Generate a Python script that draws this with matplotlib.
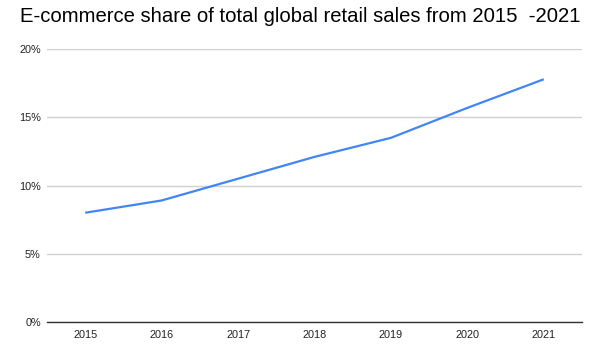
import matplotlib
matplotlib.use("Agg")
import matplotlib.pyplot as plt
from matplotlib.ticker import FuncFormatter

# E-commerce share of total retail sales (%)
years = ["2015", "2016", "2017", "2018", "2019", "2020", "2021"]
share = [8.0, 8.9, 10.5, 12.1, 13.5, 15.7, 17.8]
y_ticks = [0, 5, 10, 15, 20]

plt.rcParams["font.family"] = ["Liberation Sans", "DejaVu Sans"]

fig = plt.figure(figsize=(6.0, 3.49), dpi=100)
ax = fig.add_axes([47 / 600, 27.3 / 349, 535 / 600, 272.4 / 349])

ax.plot(range(len(years)), share, color="#4285F4", linewidth=1.6,
        solid_capstyle="butt", zorder=3)

ax.set_xlim(-0.5, len(years) - 0.5)
ax.set_ylim(0, 20)
ax.set_xticks(range(len(years)))
ax.set_xticklabels(years)
ax.set_yticks(y_ticks)
ax.yaxis.set_major_formatter(FuncFormatter(lambda v, p: f"{v:.0f}%"))

ax.grid(axis="y", color="#d0d0d0", linewidth=1)
for s in ["top", "right", "left"]:
    ax.spines[s].set_visible(False)
ax.spines["bottom"].set_color("#333333")
ax.spines["bottom"].set_linewidth(1)
ax.spines["bottom"].set_zorder(4)

ax.tick_params(axis="both", length=0, labelsize=7.8, colors="#222222")
ax.tick_params(axis="x", pad=6)
ax.tick_params(axis="y", pad=4.5)

fig.text(0.5, 1 - 17 / 349, "E-commerce share of total global retail sales from 2015  -2021",
         ha="center", va="center", fontsize=14.6, color="#000000")

fig.savefig("out.png", dpi=100)
